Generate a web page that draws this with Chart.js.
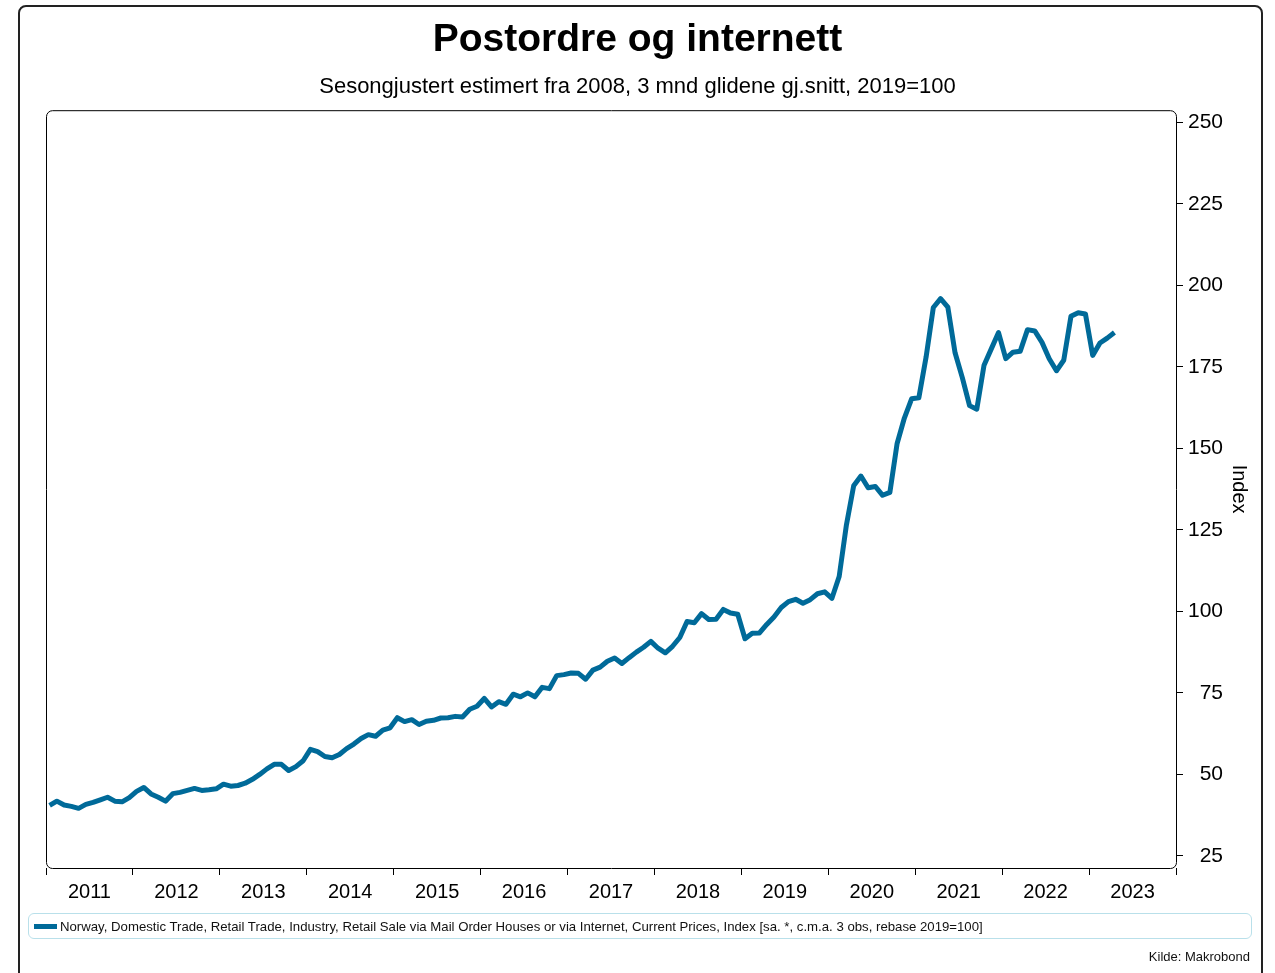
<!DOCTYPE html>
<html>
<head>
<meta charset="utf-8">
<script src="https://cdn.jsdelivr.net/npm/chart.js@4.4.1/dist/chart.umd.min.js"></script>
<style>
  html, body { margin: 0; padding: 0; background: #fff; }
  body { width: 1275px; height: 973px; position: relative; overflow: hidden; font-family: 'Liberation Sans', Arial, sans-serif; }
  #frame { position: absolute; left: 18px; top: 5px; width: 1245px; height: 990px; border: 2px solid #222; border-radius: 8px; box-sizing: border-box; }
  #wrap { position: absolute; left: 0; top: 0; width: 1275px; height: 973px; }
  #legend { position: absolute; left: 28px; top: 913px; width: 1224px; height: 26px; border: 1px solid #b9e0ea; border-radius: 6px; box-sizing: border-box; font-size: 13.2px; color: #111; display: flex; align-items: center; white-space: nowrap; }
  #legend .swatch { display: inline-block; width: 23px; height: 5px; background: #006a99; margin-left: 5px; margin-right: 3px; }
  #source { position: absolute; right: 25px; top: 949px; font-size: 13px; color: #111; }
</style>
</head>
<body>
<div id="wrap"><canvas id="chart" width="1275" height="973"></canvas></div>
<div id="frame"></div>
<div id="legend"><span class="swatch"></span><span id="legend-text"></span></div>
<div id="source">Kilde: Makrobond</div>
<script>
// Monthly data, January 2011 to April 2023
const START_YEAR = 2011;
const months = [];
for (let i = 0; i < 148; i++) {
  months.push((START_YEAR + Math.floor(i / 12)) + '-' + String(i % 12 + 1).padStart(2, '0'));
}

const indexValues = [
  40.5, 41.8, 40.6, 40.2, 39.6, 40.8, 41.4, 42.2, 43.0, 41.8, 41.6, 42.9,
  44.8, 46.0, 44.0, 43.0, 41.8, 44.1, 44.5, 45.1, 45.7, 45.1, 45.3, 45.6,
  47.0, 46.4, 46.6, 47.3, 48.5, 50.0, 51.7, 53.1, 53.1, 51.2, 52.4, 54.2,
  57.7, 57.0, 55.5, 55.1, 56.1, 57.9, 59.3, 61.0, 62.2, 61.7, 63.6, 64.3,
  67.4, 66.2, 66.8, 65.3, 66.3, 66.6, 67.3, 67.4, 67.8, 67.6, 70.0, 70.9,
  73.3, 70.7, 72.3, 71.5, 74.6, 73.8, 75.0, 73.8, 76.7, 76.3, 80.3, 80.6,
  81.1, 81.0, 79.2, 82.0, 82.9, 84.7, 85.7, 84.0, 85.8, 87.5, 89.0, 90.8,
  88.7, 87.3, 89.3, 92.0, 96.9, 96.5, 99.3, 97.5, 97.6, 100.6, 99.5, 99.1,
  91.6, 93.3, 93.4, 96.0, 98.3, 101.2, 103.0, 103.7, 102.5, 103.6, 105.4, 106.0,
  104.0, 110.7, 126.5, 138.5, 141.5, 137.9, 138.3, 135.6, 136.5, 151.5, 159.3, 165.2,
  165.5, 178.0, 193.2, 195.9, 193.3, 179.3, 171.7, 163.1, 162.0, 175.5, 180.5, 185.5,
  177.5, 179.5, 179.8, 186.4, 186.0, 182.5, 177.5, 173.8, 177.0, 190.5, 191.6, 191.2,
  178.5, 182.3, 183.8, 185.5
];

const yTicks = [25, 50, 75, 100, 125, 150, 175, 200, 225, 250];
const yearLabels = ['2011', '2012', '2013', '2014', '2015', '2016', '2017', '2018', '2019', '2020', '2021', '2022', '2023'];

const SERIES_NAME = 'Norway, Domestic Trade, Retail Trade, Industry, Retail Sale via Mail Order Houses or via Internet, Current Prices, Index [sa. *, c.m.a. 3 obs, rebase 2019=100]';
const LINE_COLOR = '#006a99';
const FONT = "'Liberation Sans', Arial, sans-serif";

document.getElementById('legend-text').textContent = SERIES_NAME;

// x = months since Jan 2011, placed mid-month
const points = indexValues.map((v, i) => ({ x: i + 0.5, y: v }));

// rounded frame round the plot area
const plotFrame = {
  id: 'plotFrame',
  afterDraw(chart) {
    const { ctx, chartArea: a } = chart;
    ctx.save();
    ctx.strokeStyle = '#000';
    ctx.lineWidth = 1;
    ctx.beginPath();
    ctx.roundRect(a.left + 0.5, a.top + 0.5, a.right - a.left, a.bottom - a.top, 6);
    ctx.stroke();
    ctx.restore();
  }
};

// empty axes used only for spacing / the "Index" title
const spacer = (pos, w, weight, title) => ({
  type: 'linear',
  position: pos,
  weight: weight,
  display: true,
  border: { display: false },
  grid: { display: false, drawTicks: false },
  ticks: { display: false },
  title: title ? {
    display: true,
    text: title,
    color: '#000',
    font: { family: FONT, size: 20 },
    padding: { top: 4, bottom: 4 }
  } : { display: false },
  afterFit: s => { s.width = w; }
});

new Chart(document.getElementById('chart'), {
  type: 'line',
  data: {
    datasets: [{
      label: SERIES_NAME,
      data: points,
      borderColor: LINE_COLOR,
      borderWidth: 5,
      pointRadius: 0,
      tension: 0,
      borderJoinStyle: 'round',
      borderCapStyle: 'butt',
      fill: false
    }]
  },
  options: {
    responsive: false,
    animation: false,
    layout: { padding: { top: 12, left: 20, right: 20, bottom: 64 } },
    plugins: {
      legend: { display: false },
      tooltip: { enabled: false },
      title: {
        display: true,
        text: 'Postordre og internett',
        color: '#000',
        font: { family: FONT, size: 39, weight: 'bold' },
        padding: { top: 5, bottom: 4 }
      },
      subtitle: {
        display: true,
        text: 'Sesongjustert estimert fra 2008, 3 mnd glidene gj.snitt, 2019=100',
        color: '#000',
        font: { family: FONT, size: 22 },
        padding: { top: 6, bottom: 10 }
      }
    },
    scales: {
      x: {
        type: 'linear',
        min: 0,
        max: 156,
        border: { display: false },
        grid: {
          display: true,
          drawOnChartArea: false,
          drawTicks: true,
          tickLength: 7,
          tickColor: c => (c.tick && c.tick.value % 12 === 0) ? '#000' : 'rgba(0,0,0,0)'
        },
        afterBuildTicks: s => {
          s.ticks = [];
          for (let v = 0; v <= 156; v += 6) s.ticks.push({ value: v });
        },
        ticks: {
          autoSkip: false,
          maxRotation: 0,
          color: '#000',
          font: { family: FONT, size: 20 },
          padding: 5,
          callback: v => (v % 12 === 6) ? yearLabels[(v - 6) / 12] : ''
        }
      },
      y: {
        position: 'right',
        weight: 0,
        min: 21.3,
        max: 253.7,
        border: { display: false },
        grid: {
          display: true,
          drawOnChartArea: false,
          drawTicks: true,
          tickLength: 7,
          tickColor: '#000'
        },
        afterBuildTicks: s => { s.ticks = yTicks.map(v => ({ value: v })); },
        afterFit: s => { s.width = 47; },
        ticks: {
          color: '#000',
          crossAlign: 'far',
          padding: 4,
          font: { family: FONT, size: 21 }
        }
      },
      yTitle: spacer('right', 32, 1, 'Index'),
      yLeft: spacer('left', 26, 0, null)
    }
  },
  plugins: [plotFrame]
});
</script>
</body>
</html>
